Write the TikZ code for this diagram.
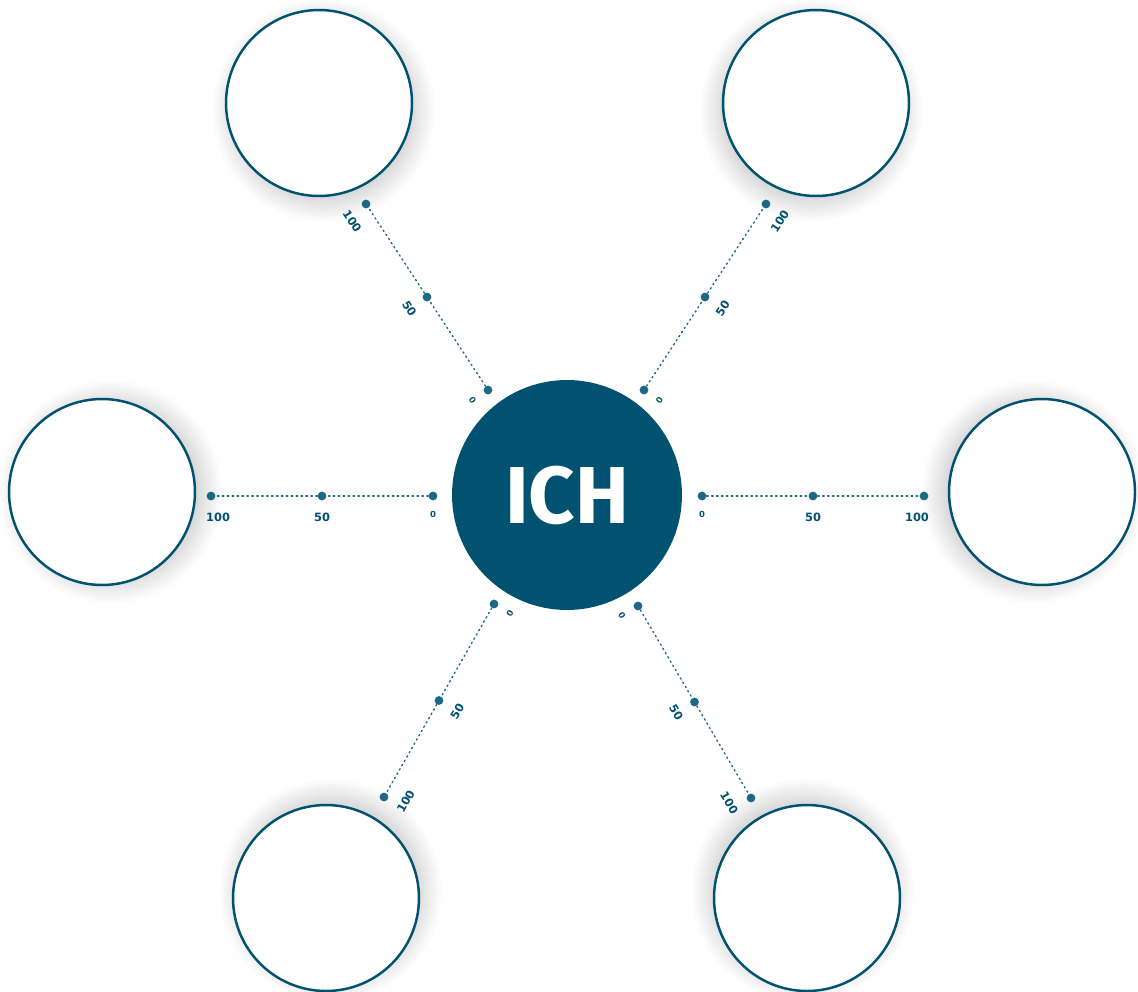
\documentclass[tikz,border=0pt]{standalone}
\usepackage{fontspec}
\setsansfont{DejaVu Sans}
\newfontfamily\ichfont{Fira Sans}
\usetikzlibrary{calc,positioning,shadows.blur}
\definecolor{ichblue}{RGB}{0,82,112}
\definecolor{dotblue}{RGB}{30,104,135}
\tikzset{
  bubble/.style={circle,draw=ichblue,line width=1.4pt,fill=white,minimum size=3.72cm,inner sep=0pt,
    blur shadow={shadow xshift={5pt*cos(#1)},shadow yshift={5pt*sin(#1)},shadow scale=1.0,
      shadow blur radius=11pt,shadow blur steps=20,shadow opacity=22}},
  dot/.style={circle,fill=dotblue,minimum size=5pt,inner sep=0pt},
  scaleline/.style={dotblue,dotted,line width=0.8pt},
  tick/.style={text=ichblue,font=\sffamily\bfseries\fontsize{6.5}{7}\selectfont,inner sep=0pt},
}
\begin{document}
\begin{tikzpicture}[x=0.02cm,y=-0.02cm,line cap=round,line join=round]
			\useasboundingbox (0,0) rectangle (1138,991);
			% centre
			\node[circle,fill=ichblue,minimum size=4.6cm,inner sep=0pt,text=white,font=\ichfont\bfseries\fontsize{46}{46}\selectfont] (ich) at (567,495) {ICH};
			% outer bubbles, shadow turned to the centre
			\node[bubble=-58] (tl) at (319,103) {};
			\node[bubble=-122] (tr) at (816,103) {};
			\node[bubble=0] (l) at (102,492) {};
			\node[bubble=180] (r) at (1042,492) {};
			\node[bubble=59] (bl) at (326,898) {};
			\node[bubble=120] (br) at (807,898) {};
			% scales: name / inner point / outer point / text angle
			\foreach \n/\ix/\iy/\ox/\oy/\a in {tl/488/390/366/204/-57, tr/644/390/766/204/57, l/433/496/211/496/0,%
					r/702/496/924/496/0, bl/494/604/384/797/60, br/638/606/751/798/-60}{
					\node[dot] (\n0) at (\ix,\iy) {};
					\node[dot] (\n2) at (\ox,\oy) {};
					\node[dot] (\n1) at ($(\n0)!0.5!(\n2)$) {};
					\draw[scaleline] (\n0) -- (\n1) -- (\n2);
					\node[tick,rotate=\a,font=\sffamily\bfseries\fontsize{4.8}{5}\selectfont] at ($(\n0)+(\a-90:10.5pt)$) {0};
					\node[tick,rotate=\a] at ($(\n1)+(\a-90:12pt)$) {50};
					\node[tick,rotate=\a] at ($($(\n2)!4pt!(\n0)$)+(\a-90:12pt)$) {100};
				}
		\end{tikzpicture}
\end{document}
